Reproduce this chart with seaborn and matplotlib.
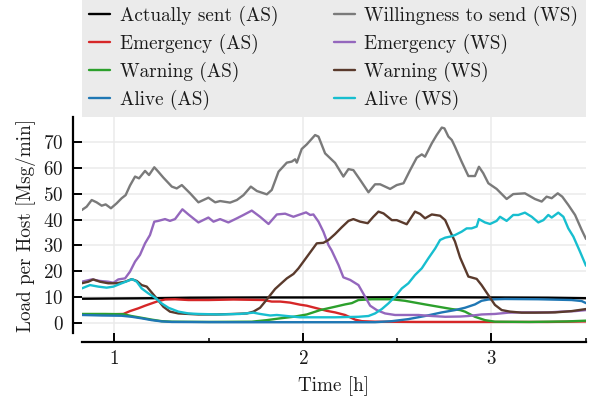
import numpy as np
import pandas as pd
import matplotlib
matplotlib.use("Agg")
import matplotlib.pyplot as plt
import seaborn as sns
from matplotlib.ticker import MultipleLocator

# ---------------- data (time in hours, load in Msg/min) ----------------
as_total_t = [0.827, 1.0, 1.2, 1.4, 1.8, 2.2, 2.6, 3.0, 3.3, 3.502]
as_total_v = [9.3, 9.4, 9.5, 9.7, 9.8, 9.8, 9.9, 9.8, 9.7, 9.5]

ws_total_t = [0.827, 0.853, 0.880, 0.906, 0.933, 0.954, 0.982, 1.012, 1.039, 1.060,
              1.083, 1.110, 1.131, 1.163, 1.184, 1.212, 1.233, 1.260, 1.305, 1.331,
              1.358, 1.402, 1.446, 1.499, 1.535, 1.561, 1.614, 1.650, 1.685, 1.724,
              1.756, 1.809, 1.835, 1.871, 1.915, 1.941, 1.959, 1.968, 1.994, 2.021,
              2.065, 2.083, 2.118, 2.171, 2.215, 2.242, 2.268, 2.304, 2.348, 2.383,
              2.410, 2.463, 2.498, 2.534, 2.569, 2.604, 2.631, 2.648, 2.684, 2.710,
              2.737, 2.751, 2.772, 2.790, 2.807, 2.842, 2.878, 2.913, 2.934, 2.957,
              2.984, 3.028, 3.081, 3.116, 3.178, 3.231, 3.267, 3.293, 3.320, 3.352,
              3.376, 3.408, 3.444, 3.479, 3.502]
ws_total_v = [43.7, 45.0, 47.6, 46.7, 45.4, 45.9, 44.4, 46.3, 48.3, 49.5,
              53.2, 56.7, 56.0, 58.9, 57.3, 60.3, 58.6, 56.3, 52.8, 52.1,
              53.4, 50.2, 46.7, 48.5, 46.7, 47.2, 46.6, 47.6, 49.5, 52.8,
              51.1, 49.8, 51.5, 58.6, 62.1, 62.5, 63.4, 62.1, 67.4, 69.2,
              72.8, 72.2, 65.7, 62.0, 56.7, 59.6, 59.2, 55.4, 50.6, 53.7,
              53.7, 51.9, 53.4, 54.1, 59.2, 64.0, 65.3, 64.4, 69.6, 72.8,
              75.7, 75.4, 72.2, 70.9, 68.3, 62.5, 56.9, 56.9, 60.5, 58.0,
              54.1, 51.9, 48.0, 49.9, 50.2, 48.0, 47.0, 48.9, 48.3, 50.2,
              48.9, 45.7, 41.8, 36.0, 32.5]

em_as_t = [0.827, 1.0, 1.048, 1.083, 1.128, 1.163, 1.198, 1.233, 1.269, 1.322,
           1.393, 1.5, 1.632, 1.791, 1.835, 1.880, 1.932, 1.985, 2.021, 2.074,
           2.127, 2.171, 2.224, 2.277, 2.313, 2.383, 2.6, 3.0, 3.3, 3.502]
em_as_v = [3.3, 3.3, 3.4, 4.5, 5.6, 6.6, 7.5, 8.4, 9.0, 9.1,
           8.8, 8.8, 9.0, 8.8, 8.2, 8.2, 7.8, 7.0, 6.6, 5.6,
           4.6, 4.0, 3.0, 1.2, 0.6, 0.4, 0.3, 0.3, 0.3, 0.5]

em_ws_t = [0.827, 0.880, 0.924, 0.968, 0.995, 1.021, 1.057, 1.083, 1.110, 1.136,
           1.163, 1.189, 1.212, 1.233, 1.269, 1.295, 1.322, 1.361, 1.393, 1.446,
           1.499, 1.526, 1.561, 1.605, 1.650, 1.685, 1.729, 1.773, 1.818, 1.862,
           1.906, 1.950, 1.985, 2.017, 2.039, 2.056, 2.083, 2.109, 2.136, 2.153,
           2.189, 2.215, 2.251, 2.295, 2.330, 2.357, 2.392, 2.436, 2.489, 2.542,
           2.613, 2.684, 2.755, 2.834, 2.878, 2.948, 3.019, 3.090, 3.161, 3.231,
           3.302, 3.373, 3.444, 3.502]
em_ws_v = [15.9, 16.8, 16.2, 15.9, 15.5, 16.8, 17.2, 19.8, 23.7, 26.3,
           30.8, 34.0, 39.2, 39.5, 40.2, 39.5, 40.2, 44.0, 42.0, 38.9,
           40.8, 39.2, 40.2, 38.9, 40.5, 41.8, 43.5, 41.1, 38.3, 42.0,
           42.3, 41.1, 42.0, 42.8, 41.8, 42.0, 39.2, 35.3, 30.1, 28.0,
           22.4, 17.6, 16.6, 14.6, 10.1, 6.6, 4.9, 3.6, 3.0, 3.0,
           3.0, 2.6, 2.3, 2.4, 2.6, 3.2, 3.4, 3.9, 4.0, 4.0,
           4.0, 4.3, 4.5, 4.9]

wa_as_t = [0.827, 0.95, 1.05, 1.09, 1.145, 1.198, 1.251, 1.305, 1.5, 1.729,
           1.809, 1.880, 1.950, 2.021, 2.092, 2.171, 2.224, 2.260, 2.295, 2.366,
           2.472, 2.542, 2.595, 2.648, 2.719, 2.790, 2.834, 2.860, 2.913, 2.966,
           3.019, 3.2, 3.4, 3.502]
wa_as_v = [3.4, 3.4, 3.3, 2.6, 1.9, 1.2, 0.6, 0.4, 0.3, 0.4,
           1.0, 1.7, 2.3, 3.2, 4.9, 6.2, 7.1, 7.6, 8.8, 9.1,
           9.1, 8.5, 7.8, 7.1, 6.2, 5.3, 4.9, 4.3, 2.3, 1.0,
           0.4, 0.3, 0.5, 0.8]

wa_ws_t = [0.827, 0.862, 0.888, 0.924, 0.968, 1.012, 1.057, 1.092, 1.119, 1.145,
           1.172, 1.195, 1.225, 1.260, 1.295, 1.340, 1.393, 1.446, 1.543, 1.632,
           1.703, 1.738, 1.773, 1.800, 1.827, 1.853, 1.880, 1.915, 1.950, 1.977,
           2.003, 2.039, 2.074, 2.109, 2.136, 2.171, 2.206, 2.242, 2.268, 2.304,
           2.344, 2.374, 2.401, 2.428, 2.472, 2.498, 2.551, 2.595, 2.622, 2.648,
           2.684, 2.728, 2.755, 2.781, 2.807, 2.834, 2.878, 2.922, 2.948, 2.984,
           3.019, 3.055, 3.099, 3.161, 3.231, 3.338, 3.426, 3.502]
wa_ws_v = [15.3, 15.9, 16.8, 15.9, 15.3, 15.3, 15.9, 16.9, 16.2, 14.6,
           14.0, 12.0, 9.4, 6.2, 4.3, 3.6, 3.4, 3.2, 3.2, 3.4,
           3.6, 4.3, 5.8, 8.2, 10.7, 13.1, 14.9, 17.2, 18.9, 21.1,
           23.7, 27.3, 30.8, 31.0, 32.1, 34.4, 37.0, 39.5, 40.2, 39.2,
           38.6, 41.1, 43.1, 42.4, 39.8, 39.8, 38.2, 43.1, 42.2, 40.5,
           42.0, 41.5, 39.8, 35.5, 31.5, 25.3, 17.9, 17.0, 14.6, 10.7,
           6.9, 4.9, 4.3, 3.9, 3.9, 4.0, 4.5, 5.3]

al_as_t = [0.827, 0.933, 1.039, 1.092, 1.145, 1.198, 1.251, 1.305, 1.6, 2.0,
           2.383, 2.472, 2.560, 2.648, 2.737, 2.807, 2.860, 2.913, 2.948, 2.984,
           3.072, 3.249, 3.426, 3.479, 3.502]
al_as_v = [3.0, 2.8, 2.7, 2.3, 1.7, 1.0, 0.5, 0.3, 0.2, 0.2,
           0.2, 0.6, 1.4, 2.6, 4.0, 4.9, 5.8, 7.1, 8.5, 9.0,
           9.2, 9.1, 8.8, 8.4, 7.6]

al_ws_t = [0.827, 0.871, 0.915, 0.959, 0.995, 1.039, 1.074, 1.095, 1.119, 1.145,
           1.180, 1.216, 1.251, 1.287, 1.340, 1.393, 1.446, 1.561, 1.667, 1.738,
           1.773, 1.827, 1.862, 1.915, 1.985, 2.074, 2.171, 2.295, 2.348, 2.383,
           2.419, 2.454, 2.489, 2.525, 2.560, 2.595, 2.631, 2.666, 2.702, 2.728,
           2.755, 2.781, 2.807, 2.842, 2.869, 2.895, 2.922, 2.934, 2.966, 2.993,
           3.028, 3.046, 3.081, 3.116, 3.143, 3.178, 3.214, 3.249, 3.276, 3.302,
           3.320, 3.355, 3.382, 3.408, 3.435, 3.470, 3.502]
al_ws_v = [13.3, 14.6, 14.0, 13.6, 14.0, 15.3, 16.3, 16.9, 15.9, 13.3,
           11.4, 9.7, 7.5, 5.8, 4.3, 3.6, 3.4, 3.2, 3.4, 3.9,
           3.4, 2.8, 3.0, 2.6, 2.1, 2.1, 2.1, 2.3, 2.6, 3.6,
           5.3, 7.5, 10.1, 13.3, 15.3, 18.5, 21.1, 25.0, 28.8, 32.1,
           33.0, 33.4, 34.0, 35.3, 36.6, 36.6, 37.3, 40.2, 38.9, 38.3,
           39.5, 41.1, 39.5, 41.8, 41.8, 42.7, 41.1, 38.9, 39.8, 41.8,
           40.8, 42.7, 41.1, 36.6, 33.4, 27.6, 22.1]

labels = ["Actually sent (AS)", "Emergency (AS)", "Warning (AS)", "Alive (AS)",
          "Willingness to send (WS)", "Emergency (WS)", "Warning (WS)", "Alive (WS)"]
colors = ["#000000", "#d62728", "#2ca02c", "#1f77b4",
          "#7a7a7a", "#9467bd", "#5a3a2c", "#17becf"]
series = [(as_total_t, as_total_v), (em_as_t, em_as_v), (wa_as_t, wa_as_v), (al_as_t, al_as_v),
          (ws_total_t, ws_total_v), (em_ws_t, em_ws_v), (wa_ws_t, wa_ws_v), (al_ws_t, al_ws_v)]

frames = []
for lab, (t, v) in zip(labels, series):
    frames.append(pd.DataFrame({"Time": t, "Load": v, "series": lab}))
df = pd.concat(frames, ignore_index=True)

# ---------------- style ----------------
sns.set_theme(style="whitegrid")
plt.rcParams["font.family"] = ["cmr10", "DejaVu Serif"]
plt.rcParams["mathtext.fontset"] = "cm"
plt.rcParams["axes.formatter.use_mathtext"] = True
FS = 13.8
LW = 1.7
TXT = "#1a1a1a"

fig = plt.figure(figsize=(5.93, 4.03), dpi=100)
ax = fig.add_axes([0.1378, 0.173, 0.8504, 0.536])

palette = dict(zip(labels, colors))
sns.lineplot(data=df, x="Time", y="Load", hue="series", hue_order=labels,
             palette=palette, estimator=None, sort=True, linewidth=LW,
             ax=ax, legend=True)

ax.set_xlim(0.827, 3.502)
ax.set_ylim(-4.1, 79.7)
ax.xaxis.set_major_locator(MultipleLocator(1))
ax.xaxis.set_minor_locator(MultipleLocator(0.5))
ax.yaxis.set_major_locator(MultipleLocator(10))
ax.grid(which="major", color="#ebebeb", linewidth=1.1)
ax.grid(which="minor", visible=False)
ax.set_facecolor("white")

sns.despine(ax=ax, offset={"left": 6.5, "bottom": 6})
for side in ("left", "bottom"):
    ax.spines[side].set_color("black")
    ax.spines[side].set_linewidth(1.6)

ax.tick_params(axis="both", which="major", direction="in", length=6.5, width=1.4,
               color="black", labelsize=FS, labelcolor=TXT)
ax.tick_params(axis="y", which="major", pad=6.5, left=True)
ax.tick_params(axis="x", which="major", pad=6, bottom=True)
ax.tick_params(axis="x", which="minor", direction="in", length=3, width=1.1,
               color="black", bottom=True)

ax.set_xlabel("Time [h]", fontsize=FS, color=TXT, labelpad=6)
ax.set_ylabel("Load per Host [Msg/min]", fontsize=FS, color=TXT, labelpad=5)

handles, labs = ax.get_legend_handles_labels()
leg = ax.legend(handles, labs, loc="lower left", bbox_to_anchor=(0, 1, 1, 0),
                mode="expand", ncol=2, borderaxespad=0, frameon=True,
                facecolor="#ebebeb", edgecolor="none", framealpha=1,
                fancybox=False, fontsize=FS, handlelength=1.1,
                handletextpad=0.5, labelspacing=0.4, borderpad=0.4)
for line in leg.get_lines():
    line.set_linewidth(LW)
for txt in leg.get_texts():
    txt.set_color(TXT)

fig.savefig("out.png", dpi=100)
